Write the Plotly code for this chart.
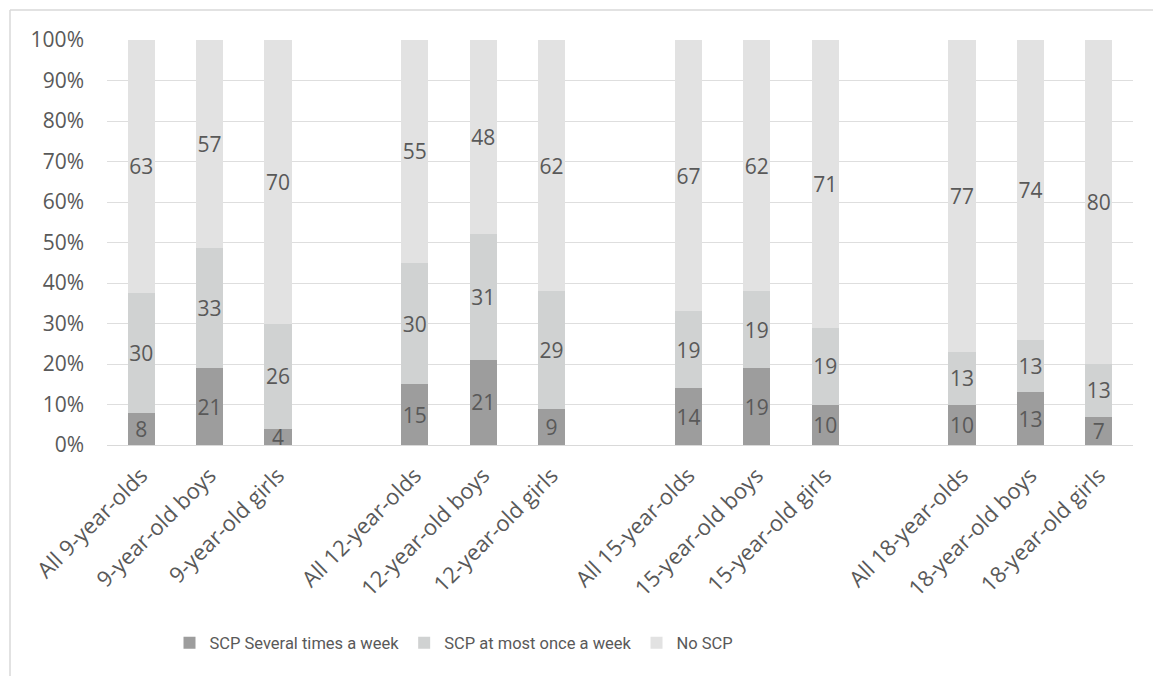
import plotly.graph_objects as go

# Category labels, with blank spacer slots separating the age groups
categories = [
    "All 9-year-olds", "9-year-old boys", "9-year-old girls", " ",
    "All 12-year-olds", "12-year-old boys", "12-year-old girls", "  ",
    "All 15-year-olds", "15-year-old boys", "15-year-old girls", "   ",
    "All 18-year-olds", "18-year-old boys", "18-year-old girls",
]

# Shares per group (None for spacer slots)
several_times = [8, 21, 4, None, 15, 21, 9, None, 14, 19, 10, None, 10, 13, 7]
at_most_once = [30, 33, 26, None, 30, 31, 29, None, 19, 19, 19, None, 13, 13, 13]
no_scp = [63, 57, 70, None, 55, 48, 62, None, 67, 62, 71, None, 77, 74, 80]

# Y-axis ticks
y_ticks = [0, 10, 20, 30, 40, 50, 60, 70, 80, 90, 100]
y_tick_labels = ["0%", "10%", "20%", "30%", "40%", "50%",
                 "60%", "70%", "80%", "90%", "100%"]

series = [
    ("SCP Several times a week", several_times, "#9d9d9d"),
    ("SCP at most once a week", at_most_once, "#d0d2d2"),
    ("No SCP", no_scp, "#e2e2e2"),
]

TEXT_COLOR = "#595959"
FONT = "Open Sans, Arial, sans-serif"
SIZE = 21

fig = go.Figure()
for name, vals, color in series:
    fig.add_trace(go.Bar(
        x=categories,
        y=vals,
        name=name,
        marker=dict(color=color, line=dict(width=0)),
        text=["" if v is None else str(v) for v in vals],
        textposition="inside",
        insidetextanchor="middle",
        textangle=0,
        textfont=dict(color=TEXT_COLOR, size=SIZE, family=FONT),
        hoverinfo="skip",
    ))

W, H = 1153, 676
L, R, T, B = 107, 20, 40, 231
pw, ph = W - L - R, H - T - B


def px_x(x):
    return (x - L) / pw


def px_y(y):
    return (H - B - y) / ph


fig.update_layout(
    width=W,
    height=H,
    barmode="stack",
    barnorm="percent",
    bargap=0.6,
    margin=dict(l=L, r=R, t=T, b=B, pad=0),
    paper_bgcolor="white",
    plot_bgcolor="white",
    font=dict(family=FONT, color=TEXT_COLOR, size=SIZE),
    uniformtext=dict(minsize=SIZE, mode="show"),
    showlegend=True,
    legend=dict(
        orientation="h",
        x=px_x(454),
        xanchor="center",
        y=px_y(643),
        yanchor="middle",
        font=dict(family="Roboto, Arial, sans-serif", size=16.5, color=TEXT_COLOR),
        itemwidth=30,
        traceorder="normal",
    ),
    xaxis=dict(
        type="category",
        categoryorder="array",
        categoryarray=categories,
        tickangle=-45,
        showgrid=False,
        showline=True,
        linecolor="#d9d9d9",
        linewidth=1,
        ticks="",
        ticklabelstandoff=8,
        tickfont=dict(size=22, color=TEXT_COLOR, family=FONT),
        fixedrange=True,
    ),
    yaxis=dict(
        range=[0, 100],
        tickmode="array",
        tickvals=y_ticks,
        ticktext=y_tick_labels,
        showgrid=True,
        gridcolor="#dedede",
        gridwidth=1,
        zeroline=False,
        showline=False,
        ticks="",
        ticklabelstandoff=22,
        tickfont=dict(size=SIZE, color=TEXT_COLOR, family=FONT),
        fixedrange=True,
    ),
    shapes=[
        # Chart frame: left and top edges
        dict(type="line", xref="paper", yref="paper",
             x0=px_x(10), x1=px_x(10), y0=px_y(10), y1=px_y(680),
             line=dict(color="#d9d9d9", width=1.5)),
        dict(type="line", xref="paper", yref="paper",
             x0=px_x(10), x1=px_x(1160), y0=px_y(10), y1=px_y(10),
             line=dict(color="#d9d9d9", width=1.5)),
    ],
)

fig.write_html("out.html")
